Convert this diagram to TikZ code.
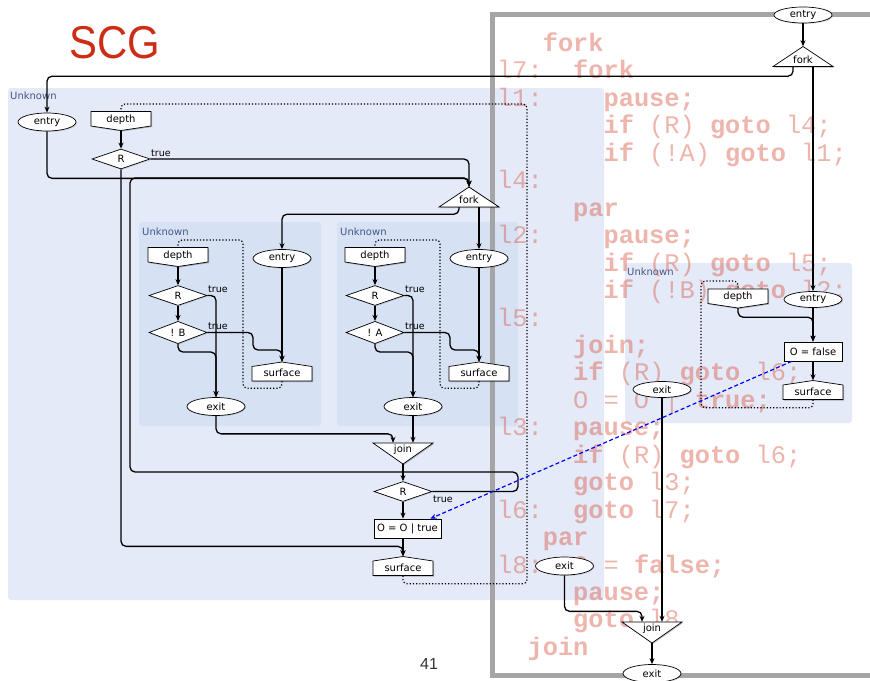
\documentclass[tikz,border=0pt]{standalone}
\usepackage{fontspec}
\setmainfont{DejaVu Sans}
\setmonofont{Liberation Mono}
\newfontfamily\titlefont{Liberation Sans}
\usetikzlibrary{shapes.geometric,arrows.meta,shadows}

\definecolor{regA}{RGB}{228,234,247}
\definecolor{regB}{RGB}{214,225,243}
\definecolor{lblblue}{RGB}{70,85,135}
\definecolor{codered}{RGB}{215,80,60}
\definecolor{titlered}{RGB}{205,45,20}
\definecolor{framegray}{RGB}{165,165,165}

\newcommand\codeln[4]{\node[codetxt] (#1) at ({497+15.2*#2},{51.5+27.45*#3}) {#4};}

\tikzset{
  shp/.style={draw=black, fill=white, line width=0.7pt},
  shd/.style={drop shadow={shadow xshift=1pt, shadow yshift=-1pt, opacity=0.25}},
  nd/.style={shp, shd, font=\fontsize{10}{12}\selectfont, inner sep=0pt},
  ell/.style={nd, ellipse, minimum width=58pt, minimum height=18pt},
  rbox/.style={nd, rectangle, minimum height=19pt, inner xsep=3pt},
  dia/.style={nd, diamond, minimum width=58pt, minimum height=20pt},
  anc/.style={inner sep=0pt, minimum width=60pt, draw=none},
  ntxt/.style={font=\fontsize{10}{12}\selectfont, inner sep=0pt},
  lbl/.style={font=\fontsize{9.5}{11}\selectfont, inner sep=0pt, anchor=base west},
  unk/.style={font=\fontsize{10}{12}\selectfont, text=lblblue, inner sep=0pt, anchor=base west},
  conn/.style={draw, line width=1.3pt, rounded corners=5pt, -{Stealth[length=6pt,width=5pt]}},
  loopdot/.style={draw, line width=1.2pt, dotted, rounded corners=4pt},
  bluedash/.style={draw=blue, line width=1.2pt, dash pattern=on 4pt off 2.5pt, -{Stealth[length=6pt,width=5pt]}},
  codetxt/.style={font=\ttfamily\fontsize{25.33}{27}\selectfont, text=codered, text opacity=0.42, inner sep=0pt, anchor=base west},
  region/.style={rounded corners=3pt},
  depthpic/.pic={
    \fill[black, opacity=.25, shift={(1,1)}] (-30,-9.5) -- (30,-9.5) -- (30,5) -- (0,9.5) -- (-30,5) -- cycle;
    \path[shp] (-30,-9.5) -- (30,-9.5) -- (30,5) -- (0,9.5) -- (-30,5) -- cycle;
    \node[anc, minimum height=19pt] (-n) at (0,0) {};
    \node[ntxt] (-t) at (0,-1.5) {depth};
  },
  surfpic/.pic={
    \fill[black, opacity=.25, shift={(1,1)}] (-30,-5) -- (0,-9.5) -- (30,-5) -- (30,9.5) -- (-30,9.5) -- cycle;
    \path[shp] (-30,-5) -- (0,-9.5) -- (30,-5) -- (30,9.5) -- (-30,9.5) -- cycle;
    \node[anc, minimum height=19pt] (-n) at (0,0) {};
    \node[ntxt] (-t) at (0,1.5) {surface};
  },
  forkpic/.pic={
    \fill[black, opacity=.25, shift={(1,1)}] (0,-10) -- (30,10) -- (-30,10) -- cycle;
    \path[shp] (0,-10) -- (30,10) -- (-30,10) -- cycle;
    \node[anc, minimum height=20pt] (-n) at (0,0) {};
    \node[ntxt] (-t) at (0,3) {fork};
  },
  joinpic/.pic={
    \fill[black, opacity=.25, shift={(1,1)}] (-30,-10.5) -- (30,-10.5) -- (0,10.5) -- cycle;
    \path[shp] (-30,-10.5) -- (30,-10.5) -- (0,10.5) -- cycle;
    \node[anc, minimum height=21pt] (-n) at (0,0) {};
    \node[ntxt] (-t) at (0,-3.5) {join};
  }
}

\begin{document}
\begin{tikzpicture}[x=1pt, y=-1pt]
\useasboundingbox (0,0) rectangle (870,680);
\clip (0,0) rectangle (870,680);
\fill[white] (0,0) rectangle (870,680);

% regions
\fill[regA, region] (8,88) rectangle (604,600);
\fill[regB, region] (139,222) rectangle (321,426);
\fill[regB, region] (337,222) rectangle (518,426);
\fill[regA, region] (625,263) rectangle (852,423);
\node[unk] (uA) at (10,99.5) {Unknown};
\node[unk] (uB) at (142,235.5) {Unknown};
\node[unk] (uC) at (340,235.5) {Unknown};
\node[unk] (uR) at (627,275) {Unknown};

% code
\codeln{c0}{3}{0}{\bfseries fork}
\codeln{c1a}{0}{1}{l7:}
\codeln{c1b}{5}{1}{\bfseries fork}
\codeln{c2a}{0}{2}{l1:}
\codeln{c2b}{7}{2}{\bfseries pause;}
\codeln{c3}{7}{3}{{\bfseries if} (R) {\bfseries goto} l4;}
\codeln{c4}{7}{4}{{\bfseries if} (!A) {\bfseries goto} l1;}
\codeln{c5}{0}{5}{l4:}
\codeln{c6}{5}{6}{\bfseries par}
\codeln{c7a}{0}{7}{l2:}
\codeln{c7b}{7}{7}{\bfseries pause;}
\codeln{c8}{7}{8}{{\bfseries if} (R) {\bfseries goto} l5;}
\codeln{c9}{7}{9}{{\bfseries if} (!B) {\bfseries goto} l2;}
\codeln{c10}{0}{10}{l5:}
\codeln{c11}{5}{11}{\bfseries join;}
\codeln{c12}{5}{12}{{\bfseries if} (R) {\bfseries goto} l6;}
\codeln{c13}{5}{13}{O = O | {\bfseries true;}}
\codeln{c14a}{0}{14}{l3:}
\codeln{c14b}{5}{14}{\bfseries pause;}
\codeln{c15}{5}{15}{{\bfseries if} (R) {\bfseries goto} l6;}
\codeln{c16}{5}{16}{{\bfseries goto} l3;}
\codeln{c17a}{0}{17}{l6:}
\codeln{c17b}{5}{17}{{\bfseries goto} l7;}
\codeln{c18}{3}{18}{\bfseries par}
\codeln{c19a}{0}{19}{l8:}
\codeln{c19b}{5}{19}{O = {\bfseries false;}}
\codeln{c20}{5}{20}{\bfseries pause;}
\codeln{c21}{5}{21}{{\bfseries goto} l8}
\codeln{c22}{2}{22}{\bfseries join}

% frame
\draw[framegray, line width=5pt] (492.5,14) rectangle (890,675.5);

% title and page number
\node[font=\titlefont\fontsize{46}{46}\selectfont, text=titlered, inner sep=0pt, anchor=base west] (title) at (69,58) {\scalebox{0.91}[1]{SCG}};
\node[font=\titlefont\fontsize{16}{16}\selectfont, text=black!80, inner sep=0pt, anchor=base] (pg) at (429,669) {41};

% ---- top level (left) ----
\node[ell] (entryA) at (47,122) {entry};
\pic (depthA) at (121,121) {depthpic};
\node[dia] (RA) at (121,159) {R};
\node[lbl] (tRA) at (151,156) {true};
\pic (forkA) at (469,197) {forkpic};

% inner region 1
\pic (depthB) at (178,257) {depthpic};
\node[dia] (RB) at (178,295.5) {R};
\node[lbl] (tRB) at (208,292.5) {true};
\node[dia] (NB) at (178,332.5) {! B};
\node[lbl] (tNB) at (208,329.5) {true};
\node[ell] (entryB) at (282,258.5) {entry};
\pic (surfB) at (282,371.5) {surfpic};
\node[ell] (exitB) at (216,406.5) {exit};

% inner region 2
\pic (depthC) at (375,257) {depthpic};
\node[dia] (RC) at (375,295.5) {R};
\node[lbl] (tRC) at (405,292.5) {true};
\node[dia] (NA) at (375,332.5) {! A};
\node[lbl] (tNA) at (405,329.5) {true};
\node[ell] (entryC) at (479,258.5) {entry};
\pic (surfC) at (479,371.5) {surfpic};
\node[ell] (exitC) at (413,406.5) {exit};

% bottom
\pic (joinA) at (403,453.5) {joinpic};
\node[dia] (Rbot) at (403,491.5) {R};
\node[lbl] (tRbot) at (433,502.5) {true};
\node[rbox, minimum width=67pt] (ootrue) at (407.5,528.5) {O = O | true};
\pic (surfA) at (403,566) {surfpic};

% ---- right ----
\node[ell, minimum height=16pt] (entryT) at (803,15) {entry};
\pic (forkR) at (803,56.5) {forkpic};
\pic (depthR) at (738,298.5) {depthpic};
\node[ell, minimum height=16pt] (entryR) at (813,299.5) {entry};
\node[rbox, minimum width=58pt] (ofalse) at (813,351.5) {O = false};
\pic (surfR) at (813,390) {surfpic};
\node[ell, minimum height=16pt] (exitR) at (662,389.5) {exit};
\node[ell] (exitL) at (564.5,566) {exit};
\pic (joinR) at (652,632.5) {joinpic};
\node[ell] (exitF) at (652,673.5) {exit};

% ---- connectors ----
\draw[conn] (depthA-n.south) -- (RA.north);
\draw[conn] (RA.east) -| (forkA-n.north);
\draw[conn] (entryA.south) -- ++(0,47) -| (forkA-n.north);
\draw[conn] (RA.south) -- ++(0,377) -| (surfA-n.north);
\draw[loopdot] (surfA-n.south) -- ++(0,8) -| (527,104) -| (depthA-n.north);

\draw[conn] ([xshift=-10pt]forkA-n.south) -- ++(0,7) -| (entryB.north);
\draw[conn] ([xshift=10pt]forkA-n.south) -- (entryC.north);

\draw[conn] (depthB-n.south) -- (RB.north);
\draw[conn] (RB.south) -- (NB.north);
\draw[conn] (RB.east) -| (exitB.north);
\draw[conn] (NB.east) -| (253,350) -| (surfB-n.north);
\draw[conn] (entryB.south) -- (surfB-n.north);
\draw[conn] (NB.south) -- ++(0,8) -| (exitB.north);
\draw[loopdot] (surfB-n.south) -- ++(0,7) -| (243,240) -| (depthB-n.north);
\draw[conn] (exitB.south) -- ++(0,18) -| ([xshift=-10pt]joinA-n.north);

\draw[conn] (depthC-n.south) -- (RC.north);
\draw[conn] (RC.south) -- (NA.north);
\draw[conn] (RC.east) -| (exitC.north);
\draw[conn] (NA.east) -| (450,350) -| (surfC-n.north);
\draw[conn] (entryC.south) -- (surfC-n.north);
\draw[conn] (NA.south) -- ++(0,8) -| (exitC.north);
\draw[loopdot] (surfC-n.south) -- ++(0,7) -| (440,240) -| (depthC-n.north);
\draw[conn] (exitC.south) -- (exitC.south |- joinA-n.north);

\draw[conn] (joinA-n.south) -- (Rbot.north);
\draw[conn] (Rbot.east) -| (518,472) -| (130,178) -| (forkA-n.north);
\draw[conn] (Rbot.south) -- (Rbot.south |- ootrue.north);
\draw[conn] (Rbot.south |- ootrue.south) -- (surfA-n.north);

\draw[conn] (entryT.south) -- (forkR-n.north);
\draw[conn] ([xshift=-10pt]forkR-n.south) -- ++(0,9.5) -| (entryA.north);
\draw[conn] ([xshift=10pt]forkR-n.south) -- (entryR.north);
\draw[conn] (depthR-n.south) -- ++(0,9) -| (ofalse.north);
\draw[conn] (entryR.south) -- (ofalse.north);
\draw[conn] (ofalse.south) -- (surfR-n.north);
\draw[loopdot] (surfR-n.south) -- ++(0,8) -| (701,281) -| (depthR-n.north);
\draw[conn] (exitR.south) -- (exitR.south |- joinR-n.north);
\draw[conn] (exitL.south) -- ++(0,36) -| ([xshift=-10pt]joinR-n.north);
\draw[conn] (joinR-n.south) -- (exitF.north);

\draw[bluedash] ([xshift=8pt]ofalse.south west) -- ([xshift=-11pt]ootrue.north east);
\end{tikzpicture}
\end{document}
